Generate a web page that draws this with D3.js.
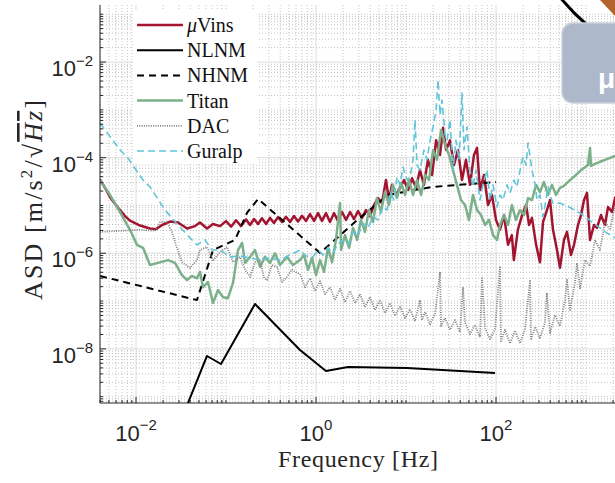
<!DOCTYPE html>
<html><head><meta charset="utf-8">
<script src="https://cdn.jsdelivr.net/npm/d3@7"></script>
<style>body{margin:0;background:#fff}svg{display:block}</style>
</head><body>
<svg id="c" width="615" height="483"></svg>
<script>
// ---------------- data ----------------
const xTicks = [1e-2, 1e0, 1e2];
const xTickExp = ["\u22122", "0", "2"];
const yTicks = [1e-8, 1e-6, 1e-4, 1e-2];
const yTickExp = ["\u22128", "\u22126", "\u22124", "\u22122"];
const legendLabels = ["Vins", "NLNM", "NHNM", "Titan", "DAC", "Guralp"];

const vinsFreq = [0.00398,0.00453,0.00514,0.00585,0.00664,0.00755,0.00858,0.0111,0.0143,0.0167,0.0195,0.0239,0.0293,0.0369,0.0453,0.0514,0.0615,0.0717,0.0858,
 0.100,0.114,0.129,0.147,0.167,0.185,0.205,0.227,0.251,0.279,0.308,0.341,0.378,0.419,0.464,0.514,0.570,0.631,0.699,0.774,0.858,0.951,
 1.053,1.166,1.292,1.43,1.585,1.755,1.946,2.157,2.39,2.648,2.933,3.24,3.59,3.98,4.41,4.88,5.41,5.99,6.47,6.99,7.74,8.58,9.51,
 10.53,11.66,12.92,14.3,15.84,17.5,19.5,21.6,23.9,25.8,27.9,30.8,34.1,37.8,41.9,46.4,51.4,56.9,61.5,66.4,73.6,81.5,90.3,
 100,110.8,122.8,136,150,158,175,195,216,233,251,279,308,333,368,398,430,476,514,569,615,681,736,815,880,951,
 1026,1108,1228,1325,1467,1626,1755,1946,2103,2390];
const vinsAsd = [3.5e-5,2.34e-5,1.51e-5,1.07e-5,8.0e-6,6.0e-6,4.8e-6,3.8e-6,3.3e-6,3.2e-6,3.9e-6,4.6e-6,4.4e-6,3.3e-6,3.7e-6,4.4e-6,3.3e-6,4.1e-6,3.7e-6,
 4.7e-6,3.6e-6,4.9e-6,3.7e-6,5.1e-6,3.9e-6,5.2e-6,4.1e-6,5.4e-6,4.1e-6,5.5e-6,4.3e-6,5.7e-6,4.5e-6,5.8e-6,4.5e-6,6.0e-6,4.6e-6,6.1e-6,4.75e-6,6.6e-6,4.75e-6,
 6.9e-6,4.75e-6,6.9e-6,4.5e-6,6.9e-6,4.75e-6,7.3e-6,5.0e-6,7.3e-6,5.2e-6,7.6e-6,5.5e-6,8.0e-6,6.0e-6,1.02e-5,1.43e-5,1.12e-5,3.4e-5,1.3e-5,2.7e-5,1.66e-5,2.34e-5,3.4e-5,
 2.1e-5,3.7e-5,2.34e-5,5.5e-5,2.7e-5,9.0e-5,4.35e-5,2.3e-4,1.14e-4,4.2e-4,1.45e-4,2.3e-4,7.0e-5,1.45e-4,3.4e-5,9.0e-5,2.7e-5,1.14e-4,1.6e-4,2.1e-5,4.35e-5,1.02e-5,1.66e-5,
 5.0e-6,3.1e-6,6.3e-6,1.5e-6,2.4e-6,7.2e-7,3.1e-6,6.3e-6,1.02e-5,3.9e-6,5.5e-6,1.5e-6,6.5e-7,4.5e-6,8.0e-6,1.3e-5,3.1e-6,1.17e-6,4.95e-7,1.9e-6,2.8e-6,9.2e-7,1.5e-6,3.9e-6,6.3e-6,1.3e-5,
 1.83e-5,1.9e-6,3.9e-6,3.4e-6,6.3e-6,3.9e-6,9.3e-6,7.3e-6,1.43e-5,2.1e-5];

const nlnmFreq = [0.0341,0.0615,0.088,0.21,0.664,1.29,2.27,10.3,97.5];
const nlnmAsd  = [4.56e-10,7.1e-9,4.83e-9,8.69e-8,9.48e-9,3.45e-9,4.18e-9,3.98e-9,3.13e-9];

const nhnmFreq = [0.00398,0.0476,0.0718,0.126,0.171,0.227,1.11,2.71,6.31,19.4,100];
const nhnmAsd  = [3.35e-7,1.05e-7,1.17e-6,1.9e-6,6.96e-6,1.37e-5,1.01e-6,4.51e-6,1.66e-5,2.44e-5,3.1e-5];

const titanFreq = [0.00398,0.00514,0.00664,0.00858,0.01026,0.01197,0.0143,0.01755,0.0227,0.0271,0.0324,0.0369,0.0419,0.0476,0.0514,0.0555,0.0631,0.0717,0.0815,0.0926,
 0.105,0.1197,0.136,0.151,0.163,0.185,0.21,0.239,0.271,0.308,0.35,0.398,0.476,0.555,0.664,0.736,0.815,0.903,1.0,1.108,1.228,1.36,1.505,1.668,1.85,1.9,2.1,2.33,2.58,2.86,
 3.16,3.5,3.88,4.3,4.76,5.27,5.84,6.47,7.17,7.94,8.8,9.76,10.8,11.97,13.25,14.7,16.3,18.0,20.0,22.1,24.5,27.2,30.1,33.3,36.8,40.8,45.3,50.1,55.5,61.5,68.1,75.5,83.6,92.7,102.6,
 110.8,122.8,136,150,166.7,185,205,227,251,279,308,341,378,419,464,514,569,631,699,774,858,951,1053,1108,1137,1260,1430,1626,1850,2103,2390];
const titanAsd = [3.4e-5,1.66e-5,7.3e-6,3.1e-6,1.5e-6,1.3e-6,5.7e-7,6.3e-7,7.2e-7,6.3e-7,3.5e-7,2.76e-7,3.35e-7,3.0e-7,4.1e-7,1.95e-7,2.5e-7,9.1e-8,1.7e-7,1.2e-7,
 1.15e-7,2.4e-7,1.17e-6,1.65e-6,6.3e-7,8.4e-7,1.17e-6,5.2e-7,8.4e-7,6.3e-7,1.0e-6,5.7e-7,8.4e-7,5.7e-7,7.2e-7,9.2e-7,4.5e-7,8.0e-7,3.5e-7,7.2e-7,4.1e-7,1.3e-6,6.5e-7,1.9e-6,1.12e-5,1.17e-6,2.4e-6,1.3e-6,3.4e-6,1.9e-6,
 5.0e-6,2.8e-6,8.0e-6,4.5e-6,1.43e-5,7.3e-6,1.9e-5,1.02e-5,2.7e-5,1.43e-5,3.0e-5,1.66e-5,3.4e-5,1.66e-5,3.4e-5,1.66e-5,4.35e-5,3.4e-5,1.45e-4,9.0e-5,3.8e-4,1.85e-4,1.14e-4,5.5e-5,2.7e-5,1.3e-5,1.02e-5,5.0e-6,1.66e-5,8.0e-6,6.3e-6,3.9e-6,5.0e-6,2.4e-6,1.9e-6,
 3.9e-6,6.3e-6,3.9e-6,1.02e-5,5.0e-6,8.0e-6,6.3e-6,1.43e-5,1.3e-5,2.7e-5,1.9e-5,3.1e-5,1.66e-5,2.7e-5,1.66e-5,2.34e-5,2.57e-5,3.1e-5,3.7e-5,4.35e-5,5.25e-5,6.1e-5,7.0e-5,1.6e-4,6.7e-5,7.4e-5,8.2e-5,9.0e-5,9.9e-5,1.09e-4,1.2e-4];

const dacFreq = [0.00398,0.00664,0.0111,0.01626,0.0185,0.0221,0.0251,0.0278,0.0324,0.0398,0.0476,0.0514,0.0615,0.0717,0.0858,0.1026,0.1197,0.143,0.163,0.185,0.21,0.239,0.265,0.286,0.324,0.368,0.419,0.476,0.541,0.615,
 0.664,0.755,0.858,0.975,1.108,1.26,1.43,1.626,1.85,2.1,2.39,2.72,3.08,3.5,3.98,4.52,5.14,5.84,6.64,7.55,8.58,9.75,11.08,12.6,14.3,15.0,16.3,18.5,21.0,23.9,24.5,27.2,30.8,35.0,39.8,43.0,45.3,
 51.4,58.4,66.4,69.9,75.5,85.8,97.5,110.8,113.7,126,143,162.6,185,210,239,245,272,308,350,368,398,452,514,584,615,664,755,794,858,975,1108,1260,1430,1626,1850,2103,2390];
const dacAsd = [2.8e-6,2.95e-6,3.1e-6,2.95e-6,4.5e-6,4.5e-6,2.8e-6,1.5e-6,6.5e-7,4.95e-7,7.2e-7,1.17e-6,1.36e-6,7.2e-7,1.05e-6,1.36e-6,6.5e-7,8.4e-7,4.5e-7,3.2e-7,6.5e-7,7.2e-7,3.0e-7,2.76e-7,5.7e-7,5.2e-7,2.5e-7,3.2e-7,4.5e-7,3.9e-7,
 3.7e-7,1.95e-7,3.0e-7,1.63e-7,2.6e-7,1.4e-7,1.95e-7,1.05e-7,1.8e-7,9.5e-8,1.63e-7,9.1e-8,1.4e-7,7.5e-8,1.22e-7,6.5e-8,1.05e-7,5.6e-8,9.1e-8,4.9e-8,7.9e-8,4.4e-8,6.8e-8,3.8e-8,1.05e-7,4.0e-8,5.9e-8,3.3e-8,5.4e-8,4.1e-7,3.0e-8,4.4e-8,2.5e-8,4.0e-8,2.25e-8,1.95e-7,3.6e-8,
 2.05e-8,3.16e-8,1.75e-8,3.2e-7,2.75e-8,1.6e-8,2.6e-8,5.4e-7,1.46e-8,2.5e-8,1.3e-8,2.4e-8,1.3e-8,2.6e-8,2.76e-7,1.53e-8,2.9e-8,1.7e-8,3.5e-8,1.48e-7,2.15e-8,5.1e-8,3.0e-8,1.05e-7,2.76e-7,6.5e-8,2.5e-7,6.3e-7,1.85e-7,7.2e-7,5.4e-7,1.9e-6,1.17e-6,4.5e-6,3.1e-6,1.02e-5,7.3e-6];

const guralpFreq = [0.00398,0.00664,0.00794,0.01197,0.0143,0.021,0.0293,0.0398,0.0476,0.0585,0.0699,0.0858,0.111,0.143,0.185,0.239,0.308,0.398,0.514,0.664,0.774,0.927,1.053,1.197,1.36,1.545,1.755,2.0,2.27,2.58,2.93,
 3.33,3.78,4.3,4.88,5.55,6.15,6.64,7.36,7.94,8.58,9.27,10.26,11.08,11.97,12.6,13.25,14.3,15.84,17.1,18.5,20.0,21.6,22.7,23.9,25.1,27.2,28.6,30.8,33.3,35.9,38.8,41.9,44.1,47.6,51.4,55.5,59.9,
 66.4,73.6,79.4,85.8,92.7,102.6,110.8,119.7,132.5,143,158.4,171,185,199.8,215.7,227,251,272,286,308,333,359,378,408,430,514,615,717,858,1026,1197,1430,1710,2103,2390];
const guralpAsd = [5.3e-4,1.45e-4,1.04e-4,3.4e-5,2.45e-5,8.0e-6,3.9e-6,2.1e-6,1.5e-6,1.9e-6,1.17e-6,1.17e-6,8.4e-7,8.8e-7,8.0e-7,7.2e-7,8.0e-7,7.2e-7,9.2e-7,1.17e-6,8.8e-7,8.4e-7,1.17e-6,9.2e-7,1.3e-6,1.0e-6,1.57e-6,1.9e-6,1.5e-6,2.8e-6,2.3e-6,
 4.3e-6,3.4e-6,5.8e-6,5.0e-6,9.3e-6,8.0e-6,1.83e-5,1.3e-5,3.95e-5,2.7e-5,6.35e-5,3.4e-5,3.95e-5,9.0e-5,6.2e-4,7.0e-5,5.5e-5,1.45e-4,9.0e-5,2.3e-4,4.4e-4,1.0e-3,4.2e-3,7.8e-4,1.6e-3,3.0e-4,2.3e-4,6.2e-4,5.5e-5,2.3e-4,9.0e-5,2.25e-3,1.45e-4,4.4e-4,5.5e-5,2.45e-5,5.5e-5,
 1.3e-5,3.4e-5,5.5e-5,1.3e-5,2.7e-5,9.3e-6,1.66e-5,1.3e-5,2.7e-5,1.83e-5,3.4e-5,2.45e-5,5.5e-5,1.04e-4,7.0e-5,2.03e-4,5.5e-5,2.7e-5,1.3e-5,1.66e-5,5.8e-6,1.3e-5,2.45e-5,1.43e-5,1.12e-5,1.12e-5,9.7e-6,8.4e-6,6.9e-6,5.5e-6,4.3e-6,3.4e-6,2.65e-6,2.1e-6,1.8e-6];

// ---------------- chart ----------------
const svg = d3.select("#c");
svg.append("rect").attr("width", 615).attr("height", 483).attr("fill", "#fff");

const L = 100, R = 640, T = 5, B = 403;
const x = d3.scaleLog().domain([0.003981, 3981]).range([L, R]);
const y = d3.scaleLog().domain([7.38e-10, 0.156]).range([B, T]);

const isMajor = (v, arr) => arr.some(t => Math.abs(Math.log10(v) - Math.log10(t)) < 1e-6);

const xGrid = [], yGrid = [];
for (let d = -3; d <= 3; d++) for (let m = 1; m <= 9; m++) { const v = m * Math.pow(10, d); if (v >= x.domain()[0] && v <= x.domain()[1]) xGrid.push(v); }
for (let d = -10; d <= 0; d++) for (let m = 1; m <= 9; m++) { const v = m * Math.pow(10, d); if (v >= y.domain()[0] && v <= y.domain()[1]) yGrid.push(v); }

const grid = svg.append("g");
grid.selectAll(".gx").data(xGrid).join("line")
  .attr("x1", d => x(d)).attr("x2", d => x(d)).attr("y1", T).attr("y2", B)
  .attr("stroke", d => isMajor(d, xTicks) ? "#dcdcdc" : "#c4c4c4")
  .attr("stroke-width", 1)
  .attr("stroke-dasharray", d => isMajor(d, xTicks) ? null : "1,2");
grid.selectAll(".gy").data(yGrid).join("line")
  .attr("y1", d => y(d)).attr("y2", d => y(d)).attr("x1", L).attr("x2", R)
  .attr("stroke", d => isMajor(d, yTicks) ? "#dcdcdc" : "#c4c4c4")
  .attr("stroke-width", 1)
  .attr("stroke-dasharray", d => isMajor(d, yTicks) ? null : "1,2");

svg.append("clipPath").attr("id", "clip").append("rect")
  .attr("x", L).attr("y", T).attr("width", R - L).attr("height", B - T);

const series = [
  { f: vinsFreq, a: vinsAsd, color: "#a2142f", w: 2.5, dash: null },
  { f: nlnmFreq, a: nlnmAsd, color: "#000000", w: 2, dash: null },
  { f: nhnmFreq, a: nhnmAsd, color: "#000000", w: 2, dash: "7,5" },
  { f: titanFreq, a: titanAsd, color: "#7bb08b", w: 2.5, dash: null },
  { f: dacFreq, a: dacAsd, color: "#808080", w: 1.8, dash: "1,1.3" },
  { f: guralpFreq, a: guralpAsd, color: "#62c5d8", w: 1.6, dash: "7,4" }
];

const line = d3.line().x(d => x(d[0])).y(d => y(d[1]));
const gData = svg.append("g").attr("clip-path", "url(#clip)");
series.forEach(s => {
  gData.append("path")
    .attr("d", line(s.f.map((v, i) => [v, s.a[i]])))
    .attr("fill", "none").attr("stroke", s.color).attr("stroke-width", s.w)
    .attr("stroke-linejoin", "round")
    .attr("stroke-dasharray", s.dash);
});

// axes
const ax = svg.append("g").attr("stroke", "#262626");
ax.append("line").attr("x1", L).attr("x2", L).attr("y1", T).attr("y2", B).attr("stroke-width", 1);
ax.append("line").attr("x1", L).attr("x2", 615).attr("y1", B).attr("y2", B).attr("stroke-width", 1);
ax.selectAll(".tx").data(xGrid).join("line")
  .attr("x1", d => x(d)).attr("x2", d => x(d)).attr("y1", B).attr("y2", d => B - (isMajor(d, xTicks) ? 6 : 3));
ax.selectAll(".ty").data(yGrid).join("line")
  .attr("y1", d => y(d)).attr("y2", d => y(d)).attr("x1", L).attr("x2", d => L + (isMajor(d, yTicks) ? 6 : 3));

const tickFont = "'Liberation Sans', Arial, Helvetica, sans-serif";
xTicks.forEach((v, i) => {
  const t = svg.append("text").attr("x", x(v)).attr("y", 441).attr("text-anchor", "middle")
    .attr("font-family", tickFont).attr("font-size", 22).attr("fill", "#262626");
  t.append("tspan").text("10");
  t.append("tspan").attr("dy", -11).attr("font-size", 15).text(xTickExp[i]);
});
yTicks.forEach((v, i) => {
  const t = svg.append("text").attr("x", 93).attr("y", y(v) + 14).attr("text-anchor", "end")
    .attr("font-family", tickFont).attr("font-size", 22).attr("fill", "#262626");
  t.append("tspan").text("10");
  t.append("tspan").attr("dy", -10).attr("font-size", 15).text(yTickExp[i]);
});

// axis labels
const serif = "'Liberation Serif', 'Times New Roman', serif";
svg.append("text").attr("x", 358).attr("y", 467).attr("text-anchor", "middle")
  .attr("font-family", serif).attr("font-size", 24).attr("fill", "#262626")
  .attr("textLength", 160).attr("lengthAdjust", "spacing")
  .text("Frequency [Hz]");

const yl = svg.append("text").attr("transform", "translate(42,200) rotate(-90)")
  .attr("text-anchor", "middle").attr("font-family", serif).attr("font-size", 26).attr("fill", "#262626")
  .attr("textLength", 200).attr("lengthAdjust", "spacing");
yl.append("tspan").text("ASD [m/s");
yl.append("tspan").attr("dy", -10).attr("font-size", 17).text("2");
yl.append("tspan").attr("dy", 10).text("/\u221A");
yl.append("tspan").attr("font-style", "italic").attr("text-decoration", "overline").text("Hz");
yl.append("tspan").text("]");

// legend
const lg = svg.append("g");
lg.append("rect").attr("x", 133).attr("y", 10).attr("width", 124).attr("height", 153).attr("fill", "#fff");
series.forEach((s, i) => {
  const yy = 25 + i * 25.2;
  lg.append("line").attr("x1", 137).attr("x2", 183).attr("y1", yy).attr("y2", yy)
    .attr("stroke", s.color).attr("stroke-width", s.w).attr("stroke-dasharray", s.dash);
  const t = lg.append("text").attr("x", 187).attr("y", yy + 7)
    .attr("font-family", serif).attr("font-size", 20).attr("fill", "#111");
  if (i === 0) t.append("tspan").attr("font-style", "italic").text("\u03BC");
  t.append("tspan").text(legendLabels[i]);
});

// decorative overlay at top right (cropped from original figure)
const ov = svg.append("g");
ov.append("path").attr("d", "M559,-4 Q572,12 587,25").attr("fill", "none").attr("stroke", "#000").attr("stroke-width", 3);
ov.append("path").attr("d", "M600,0 L615,0 L615,16 Z").attr("fill", "#b3642c");
ov.append("rect").attr("x", 562).attr("y", 23).attr("width", 80).attr("height", 80).attr("rx", 11)
  .attr("fill", "#aeb8cb").attr("stroke", "#c9d0dc").attr("stroke-width", 1.5);
ov.append("text").attr("x", 598).attr("y", 88).attr("font-family", tickFont).attr("font-size", 28)
  .attr("font-weight", "bold").attr("fill", "#fff").text("\u03BC");
</script>
</body></html>
